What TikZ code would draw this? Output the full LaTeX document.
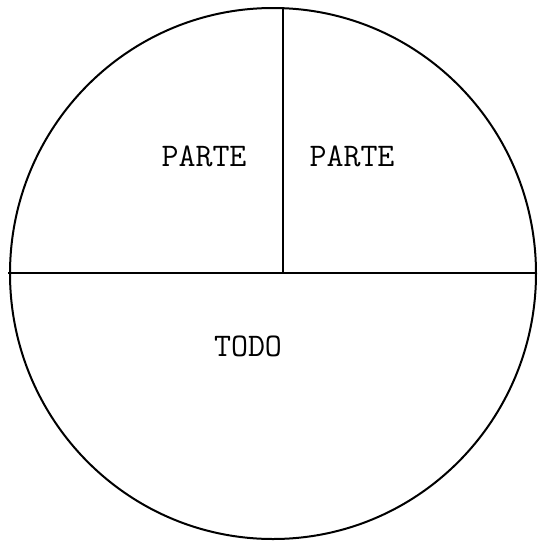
\documentclass[tikz,border=0pt]{standalone}
\usepackage{fontspec}
\usetikzlibrary{positioning}

\begin{document}
\begin{tikzpicture}[
    x=0.5pt, y=-0.5pt,
    parttext/.style={font=\ttfamily\fontsize{16.5}{18}\selectfont, inner sep=0pt},
    divider/.style={draw=black, line width=1pt},
]
\useasboundingbox (0,0) rectangle (537,541);

% the whole
\coordinate (centre) at (273,273.5);
\draw[divider] (centre) ellipse [x radius=263, y radius=265.5];

% dividing lines
\coordinate (top) at (283,8);
\coordinate (hub) at (283,273);
\coordinate (west) at (8,273);
\coordinate (east) at (536,273);
\draw[divider] (west) -- (east);
\draw[divider] (top) -- (hub);

% labels
\node[parttext] (leftpart) at (204,156) {PARTE};
\node[parttext] (rightpart) at (352,156) {PARTE};
\node[parttext] (whole) at (248,346) {TODO};

\end{tikzpicture}
\end{document}
